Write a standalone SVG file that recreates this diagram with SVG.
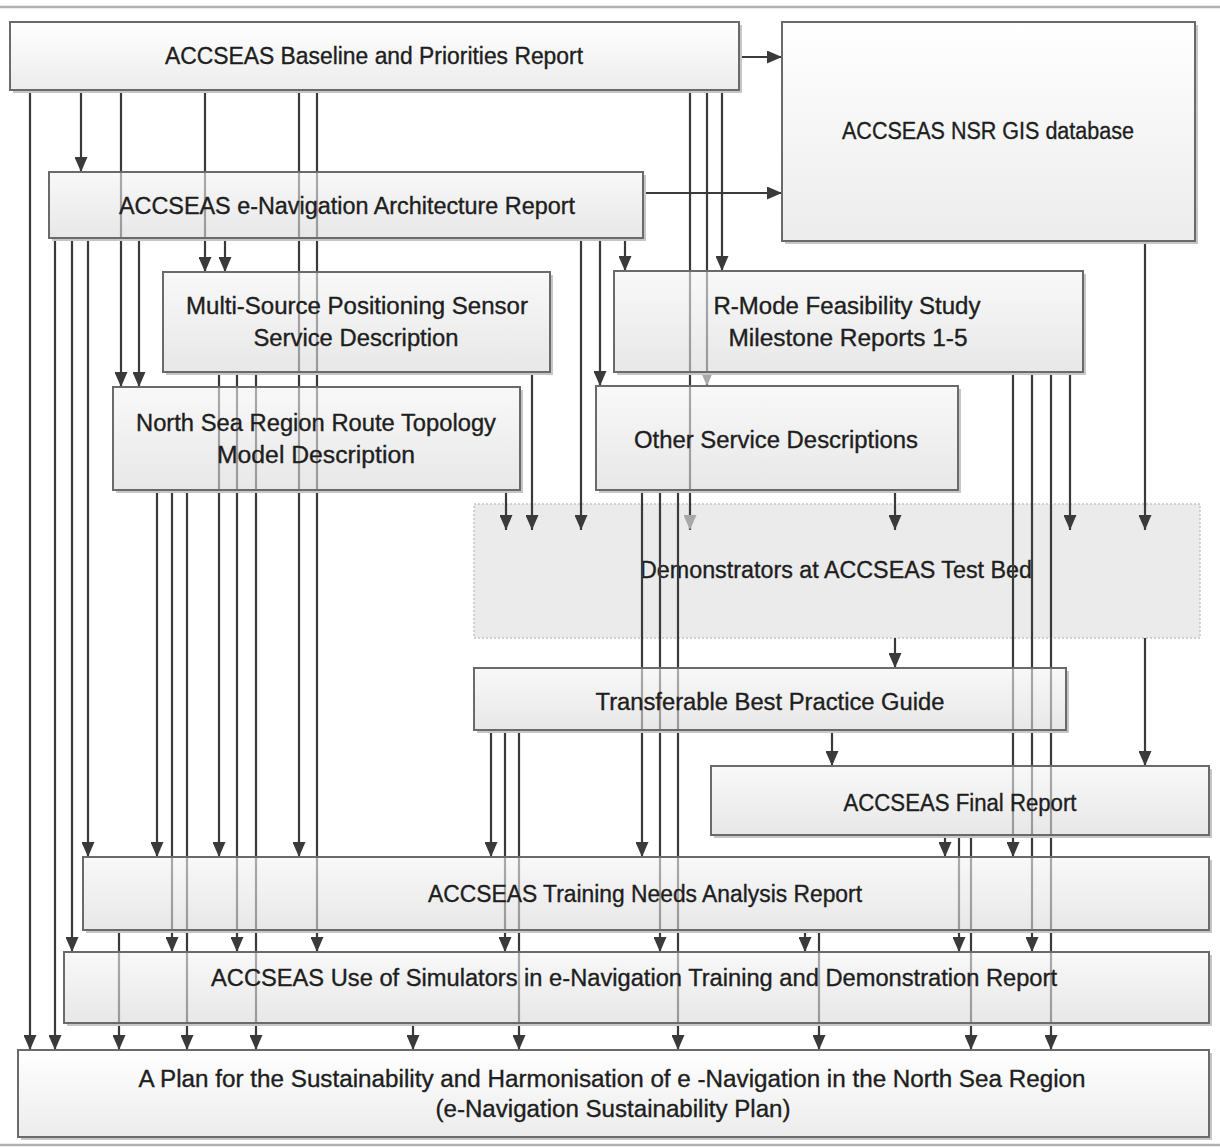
<svg xmlns="http://www.w3.org/2000/svg" width="1220" height="1147" viewBox="0 0 1220 1147">
<defs>
<linearGradient id="gBox" x1="0" y1="0" x2="0" y2="1">
<stop offset="0" stop-color="#f4f4f4" stop-opacity="0.6"/>
<stop offset="1" stop-color="#d8d8d8" stop-opacity="0.6"/>
</linearGradient>
<linearGradient id="gLight" x1="0" y1="0" x2="0" y2="1">
<stop offset="0" stop-color="#ffffff" stop-opacity="0.65"/>
<stop offset="1" stop-color="#e2e2e2" stop-opacity="0.65"/>
</linearGradient>
<marker id="ah" viewBox="0 0 15 13" refX="15" refY="6.5" markerWidth="15" markerHeight="13" markerUnits="userSpaceOnUse" orient="auto">
<path d="M0,0 L15,6.5 L0,13 z" fill="#3a3a3a"/>
</marker>
<marker id="ahg" viewBox="0 0 15 13" refX="15" refY="6.5" markerWidth="15" markerHeight="13" markerUnits="userSpaceOnUse" orient="auto">
<path d="M0,0 L15,6.5 L0,13 z" fill="#a8a8a8"/>
</marker>
</defs>
<style>
.box{fill:url(#gBox);stroke:#6a6a6a;stroke-width:2}
.boxl{fill:url(#gLight);stroke:#6a6a6a;stroke-width:2}
.demo{fill:#ebebeb;stroke:#c4c4c4;stroke-width:1.5;stroke-dasharray:2 2}
.sh{fill:none;stroke:#c6c6c6;stroke-width:2}
.c{fill:none;stroke:#3a3a3a;stroke-width:2.2;marker-end:url(#ah)}
.cg{fill:none;stroke:#3a3a3a;stroke-width:2.2;marker-end:url(#ahg)}
.rule{stroke:#b0b0b0;stroke-width:2.5}
text{font-family:"Liberation Sans",Arial,sans-serif;font-size:23px;fill:#1e1e1e;stroke:#1e1e1e;stroke-width:0.35;text-anchor:middle}
</style>
<rect width="1220" height="1147" fill="#ffffff"/>
<line class="rule" x1="0" y1="7" x2="1220" y2="7"/>
<line class="rule" x1="0" y1="1145" x2="1220" y2="1145"/>

<g id="demonstrators">
<rect class="demo" x="474" y="504" width="726" height="134"/>
<text x="836" y="578" textLength="392" lengthAdjust="spacingAndGlyphs">Demonstrators at ACCSEAS Test Bed</text>
</g>

<g id="connectors">
<!-- from Baseline -->
<path class="c" d="M30,90 V1050"/>
<path class="c" d="M81,90 V172"/>
<path class="c" d="M121,90 V387"/>
<path class="c" d="M205,90 V272"/>
<path class="c" d="M299,90 V857"/>
<path class="c" d="M317,90 V952"/>
<path class="cg" d="M690,90 V530"/>
<path class="cg" d="M707,90 V386"/>
<path class="c" d="M722,90 V271"/>
<path class="c" d="M739,57 H782"/>
<!-- from Architecture -->
<path class="c" d="M55,238 V1050"/>
<path class="c" d="M72,238 V952"/>
<path class="c" d="M88,238 V857"/>
<path class="c" d="M139,238 V387"/>
<path class="c" d="M225,238 V272"/>
<path class="c" d="M581,238 V530"/>
<path class="c" d="M600,238 V386"/>
<path class="c" d="M625,238 V271"/>
<path class="c" d="M643,193 H782"/>
<!-- from Multi-Source -->
<path class="c" d="M219,372 V857"/>
<path class="c" d="M237,372 V952"/>
<path class="c" d="M256,372 V1050"/>
<path class="c" d="M532,372 V530"/>
<!-- from North Sea -->
<path class="c" d="M157,490 V857"/>
<path class="c" d="M172,490 V952"/>
<path class="c" d="M187,490 V1050"/>
<path class="c" d="M506,490 V530"/>
<!-- from R-Mode -->
<path class="c" d="M1013,372 V857"/>
<path class="c" d="M1032,372 V952"/>
<path class="c" d="M1051,372 V1050"/>
<path class="c" d="M1070,372 V530"/>
<!-- from Other Service -->
<path class="c" d="M642,490 V857"/>
<path class="c" d="M660,490 V952"/>
<path class="c" d="M678,490 V1050"/>
<path class="c" d="M895,490 V530"/>
<!-- from NSR GIS -->
<path class="c" d="M1145,241 V530"/>
<!-- from Demonstrators -->
<path class="c" d="M895,638 V668"/>
<path class="c" d="M1145,638 V766"/>
<!-- from Transferable -->
<path class="c" d="M491,730 V857"/>
<path class="c" d="M505,730 V952"/>
<path class="c" d="M519,730 V1050"/>
<path class="c" d="M832,730 V766"/>
<!-- from Final Report -->
<path class="c" d="M945,835 V857"/>
<path class="c" d="M959,835 V952"/>
<path class="c" d="M971,835 V1050"/>
<!-- from Training -->
<path class="c" d="M119,930 V1050"/>
<path class="c" d="M805,930 V952"/>
<path class="c" d="M819,930 V1050"/>
<!-- from Simulators -->
<path class="c" d="M413,1023 V1050"/>
</g>

<g id="baseline">
<path class="sh" d="M741,25 V92 H13"/>
<rect class="boxl" x="10" y="22" width="729" height="68"/>
<text x="374" y="64" textLength="418" lengthAdjust="spacingAndGlyphs">ACCSEAS Baseline and Priorities Report</text>
</g>

<g id="nsr-gis">
<path class="sh" d="M1197,25 V243 H785"/>
<rect class="boxl" x="782" y="22" width="413" height="219"/>
<text x="988" y="139" textLength="292" lengthAdjust="spacingAndGlyphs">ACCSEAS NSR GIS database</text>
</g>

<g id="architecture">
<path class="sh" d="M645,175 V240 H52"/>
<rect class="box" x="49" y="172" width="594" height="66"/>
<text x="347" y="214" textLength="456" lengthAdjust="spacingAndGlyphs">ACCSEAS e-Navigation Architecture Report</text>
</g>

<g id="multi-source">
<path class="sh" d="M552,275 V374 H166"/>
<rect class="box" x="163" y="272" width="387" height="100"/>
<text x="357" y="314" textLength="342" lengthAdjust="spacingAndGlyphs">Multi-Source Positioning Sensor</text>
<text x="356" y="346" textLength="205" lengthAdjust="spacingAndGlyphs">Service Description</text>
</g>

<g id="r-mode">
<path class="sh" d="M1085,274 V374 H617"/>
<rect class="box" x="614" y="271" width="469" height="101"/>
<text x="847" y="314" textLength="267" lengthAdjust="spacingAndGlyphs">R-Mode Feasibility Study</text>
<text x="848" y="346" textLength="239" lengthAdjust="spacingAndGlyphs">Milestone Reports 1-5</text>
</g>

<g id="north-sea">
<path class="sh" d="M522,390 V492 H116"/>
<rect class="box" x="113" y="387" width="407" height="103"/>
<text x="316" y="431" textLength="360" lengthAdjust="spacingAndGlyphs">North Sea Region Route Topology</text>
<text x="316" y="463" textLength="198" lengthAdjust="spacingAndGlyphs">Model Description</text>
</g>

<g id="other-service">
<path class="sh" d="M960,389 V492 H599"/>
<rect class="box" x="596" y="386" width="362" height="104"/>
<text x="776" y="448" textLength="284" lengthAdjust="spacingAndGlyphs">Other Service Descriptions</text>
</g>

<g id="transferable">
<path class="sh" d="M1068,671 V732 H477"/>
<rect class="box" x="474" y="668" width="592" height="62"/>
<text x="770" y="710" textLength="349" lengthAdjust="spacingAndGlyphs">Transferable Best Practice Guide</text>
</g>

<g id="final-report">
<path class="sh" d="M1211,769 V837 H714"/>
<rect class="box" x="711" y="766" width="498" height="69"/>
<text x="960" y="811" textLength="233" lengthAdjust="spacingAndGlyphs">ACCSEAS Final Report</text>
</g>

<g id="training">
<path class="sh" d="M1211,860 V932 H86"/>
<rect class="box" x="83" y="857" width="1126" height="73"/>
<text x="645" y="902" textLength="434" lengthAdjust="spacingAndGlyphs">ACCSEAS Training Needs Analysis Report</text>
</g>

<g id="simulators">
<path class="sh" d="M1211,955 V1025 H67"/>
<rect class="box" x="64" y="952" width="1145" height="71"/>
<text x="634" y="986" textLength="846" lengthAdjust="spacingAndGlyphs">ACCSEAS Use of Simulators in e-Navigation Training and Demonstration Report</text>
</g>

<g id="plan">
<path class="sh" d="M1211,1053 V1139 H21"/>
<rect class="boxl" x="18" y="1050" width="1191" height="87"/>
<text x="612" y="1087" textLength="947" lengthAdjust="spacingAndGlyphs">A Plan for the Sustainability and Harmonisation of e -Navigation in the North Sea Region</text>
<text x="613" y="1117" textLength="355" lengthAdjust="spacingAndGlyphs">(e-Navigation Sustainability Plan)</text>
</g>
</svg>
